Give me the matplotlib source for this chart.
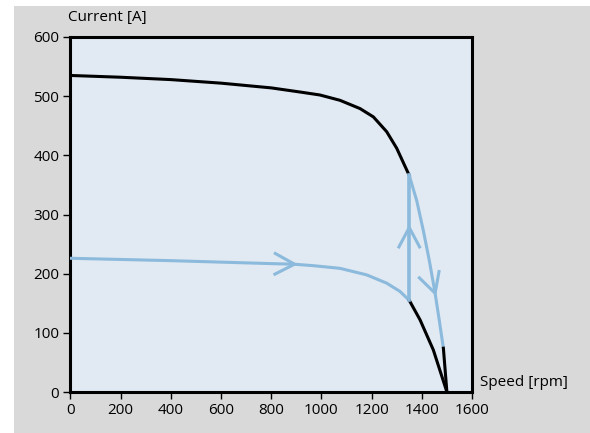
import numpy as np
import matplotlib.pyplot as plt
from matplotlib.patches import Rectangle

# upper curve (black), speed [rpm] -> current [A]
hi_speed = [0, 200, 400, 600, 800, 915, 994, 1074, 1154, 1207, 1260, 1300, 1350]
hi_curr = [535, 532, 528, 522, 514, 507, 502, 493, 479, 465, 440, 412, 366]

# upper curve continued in blue after the switch
hi2_speed = [1350, 1380, 1406, 1430, 1453, 1470, 1486]
hi2_curr = [366, 323, 273, 222, 167, 120, 74]
hi3_speed = [1486, 1500]
hi3_curr = [74, 0]

# lower curve (blue), then black after the switch
lo_speed = [0, 400, 800, 891, 968, 1074, 1180, 1260, 1313, 1350]
lo_curr = [226, 222, 217, 216, 213.5, 209, 198, 184, 170, 155]
lo2_speed = [1350, 1393, 1446, 1500]
lo2_curr = [155, 122, 71, 0]

# vertical jump at 1350 rpm
jump_speed = [1350, 1350]
jump_curr = [155, 366]

BLUE = '#8bbadc'
BG = '#e1e9f2'
GRAY = '#d9d9d9'

plt.rcParams['font.family'] = ['Open Sans', 'DejaVu Sans']

fig = plt.figure(figsize=(5.9, 4.33), dpi=100)
fig.add_artist(Rectangle((14 / 590, 0), 1, 427 / 433, transform=fig.transFigure,
                         facecolor=GRAY, edgecolor='none', zorder=-10))

ax = fig.add_axes([70.4 / 590, 1 - 392 / 433, 401.6 / 590, 355 / 433])
ax.set_facecolor(BG)
ax.set_xlim(0, 1600)
ax.set_ylim(0, 600)
ax.set_xticks(range(0, 1601, 200))
ax.set_yticks(range(0, 601, 100))
for s in ax.spines.values():
    s.set_linewidth(2.2)
    s.set_color('black')
ax.tick_params(direction='out', length=5, width=1, labelsize=11, colors='black', pad=3)

lw = 2.2
ax.plot(hi_speed, hi_curr, color='black', lw=lw, zorder=3)
ax.plot(hi2_speed, hi2_curr, color=BLUE, lw=lw, zorder=3)
ax.plot(hi3_speed, hi3_curr, color='black', lw=lw, zorder=3)
ax.plot(lo_speed, lo_curr, color=BLUE, lw=lw, zorder=3)
ax.plot(lo2_speed, lo2_curr, color='black', lw=lw, zorder=3)
ax.plot(jump_speed, jump_curr, color=BLUE, lw=2.6, zorder=3)


def chevron(x, y, dx, dy, size=22, spread=28):
    # open arrow head in pixel space, apex at (x, y), pointing along (dx, dy)
    p = ax.transData.transform((x, y))
    ang = np.arctan2(dy, dx)
    pts = []
    for sgn in (-1, 1):
        a = ang + np.pi + sgn * np.radians(spread)
        pts.append(p + size * np.array([np.cos(a), np.sin(a)]))
    inv = ax.transData.inverted()
    a1, a2 = inv.transform(pts[0]), inv.transform(pts[1])
    ax.plot([a1[0], x, a2[0]], [a1[1], y, a2[1]], color=BLUE, lw=lw, zorder=3,
            solid_joinstyle='miter')


fig.canvas.draw()
chevron(893, 216, 1, -0.02)
chevron(1350, 278, 0, 1)
chevron(1453, 167, 0.32, -1)

fig.text(68 / 590, 1 - 18 / 433, 'Current [A]', fontsize=11, va='center', ha='left')
fig.text(480 / 590, 1 - 383 / 433, 'Speed [rpm]', fontsize=11, va='center', ha='left')

fig.savefig('out.png', dpi=100)
